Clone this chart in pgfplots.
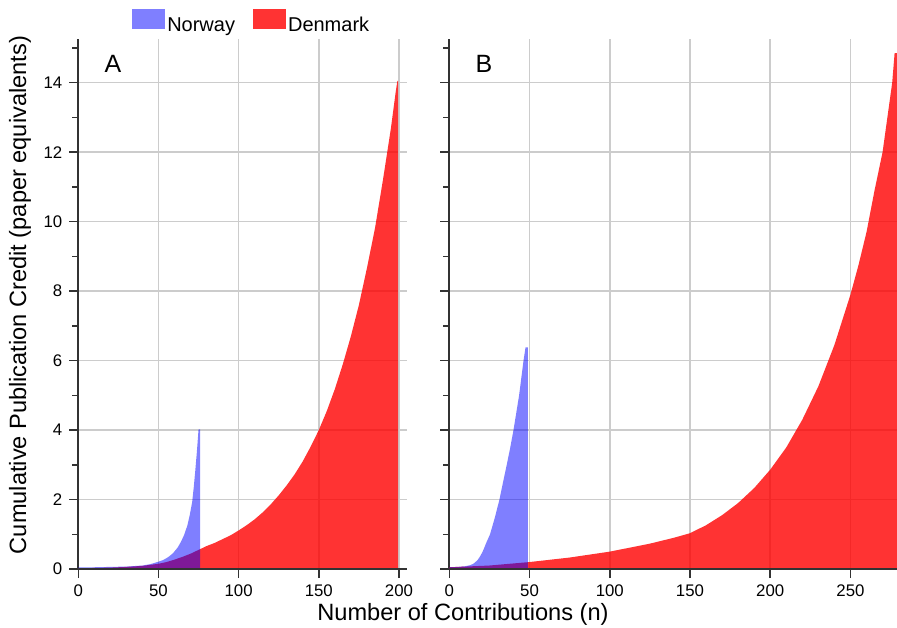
\documentclass[border=0pt]{standalone}
\usepackage{pgfplots}
\pgfplotsset{compat=1.18}
\usepackage{pgfplotstable}
\usepackage{fontspec}
\setmainfont{Liberation Sans}
\definecolor{nor}{RGB}{0,0,255}
\definecolor{den}{RGB}{255,0,0}
\definecolor{axc}{RGB}{51,51,51}
\definecolor{gridc}{RGB}{204,204,204}

\pgfplotstableread{
n v
0 0.05
10 0.05
20 0.06
30 0.07
40 0.10
45 0.14
50 0.21
53 0.26
56 0.34
59 0.45
62 0.62
64 0.78
66 0.98
68 1.25
69.5 1.55
71 1.92
72 2.35
73 2.85
74 3.40
75 4.02
76 4.02
}\norA

\pgfplotstableread{
n v
0 0.02
10 0.03
20 0.04
30 0.06
40 0.09
50 0.15
55 0.20
60 0.27
65 0.35
70 0.44
75 0.55
80 0.66
85 0.75
90 0.86
95 0.97
100 1.11
105 1.26
110 1.43
115 1.63
120 1.86
125 2.12
130 2.41
135 2.73
140 3.10
145 3.53
150 4.00
155 4.55
160 5.18
165 5.90
170 6.70
175 7.60
180 8.66
185 9.80
190 11.20
195 12.70
198 13.75
199 14.05
199.5 14.05
}\denA

\pgfplotstableread{
n v
0 0.05
5 0.06
10 0.08
13 0.11
15 0.15
17.5 0.25
19 0.35
20.8 0.50
23 0.75
25.4 1.00
28.5 1.50
31.25 2.00
33.5 2.50
35.8 3.00
38 3.50
40 4.00
43.5 5.00
46.25 6.00
47.5 6.38
49 6.38
}\norB

\pgfplotstableread{
n v
0 0.05
25 0.10
50 0.20
75 0.33
100 0.50
125 0.73
140 0.90
150 1.03
160 1.26
170 1.55
180 1.90
190 2.33
200 2.86
210 3.50
220 4.30
230 5.26
240 6.45
250 7.90
255 8.75
260 9.70
265 10.90
270 12.00
273 13.00
276 14.00
277.5 14.85
279 14.85
}\denB

\pgfplotsset{
 panel/.style={
  scale only axis, height=264.85bp, ymin=0, ymax=15.25, xmin=0,
  axis x line*=bottom, axis y line*=left,
  axis line style={axc, line width=1bp},
  tick align=outside,
  major tick length=4.5bp, minor tick length=3bp,
  tick style={axc, line width=0.75bp},
  ytick={0,2,...,14}, minor ytick={1,3,...,15},
  grid=major, major grid style={gridc, line width=0.75bp},
  tick label style={font=\fontsize{8.4bp}{10bp}\selectfont},
  /pgf/number format/assume math mode=true,
 },
 norstyle/.style={draw=none, fill=nor, fill opacity=0.5},
 denstyle/.style={draw=none, fill=den, fill opacity=0.8},
}

\begin{document}
\begin{tikzpicture}
\begin{axis}[panel, width=164.35bp, xmax=205, xtick={0,50,...,200},
  legend columns=2,
  legend style={at={(axis description cs:0.163,1.031)}, anchor=west, draw=none, fill=none,
    inner sep=0pt, font=\fontsize{10bp}{12bp}\selectfont,
    /tikz/every even column/.append style={column sep=8bp},
    nodes={inner sep=1bp}},
  legend image code/.code={\fill[#1] (0bp,-1.4bp) rectangle (16.5bp,8.6bp);},
]
\addplot[denstyle, forget plot] table[x=n,y=v] {\denA} \closedcycle;
\addplot[norstyle, forget plot] table[x=n,y=v] {\norA} \closedcycle;
\addplot[axc, line width=1bp, forget plot] coordinates {(0,0) (205,0)};
\addlegendimage{norstyle}
\addlegendentry{Norway}
\addlegendimage{denstyle}
\addlegendentry{Denmark}
\node[font=\fontsize{12.5bp}{15bp}\selectfont] at (rel axis cs:0.1056,0.953) {A};
\end{axis}
\begin{axis}[panel, at={(185.5bp,0)}, anchor=south west, width=223.85bp, xmax=279,
  xtick={0,50,...,250}, yticklabels={}]
\addplot[denstyle] table[x=n,y=v] {\denB} \closedcycle;
\addplot[norstyle] table[x=n,y=v] {\norB} \closedcycle;
\addplot[axc, line width=1bp] coordinates {(0,0) (279,0)};
\node[font=\fontsize{12.5bp}{15bp}\selectfont] at (rel axis cs:0.0775,0.953) {B};
\end{axis}
\node[rotate=90, font=\fontsize{11.8bp}{14bp}\selectfont] at (-29.15bp,137bp) {Cumulative Publication Credit (paper equivalents)};
\node[anchor=base, font=\fontsize{11.8bp}{14bp}\selectfont] at (192.35bp,-25.5bp) {Number of Contributions (n)};
\pgfresetboundingbox
\path[use as bounding box] (-39.15bp,-29.5bp) rectangle (409.35bp,284.5bp);
\end{tikzpicture}
\end{document}
